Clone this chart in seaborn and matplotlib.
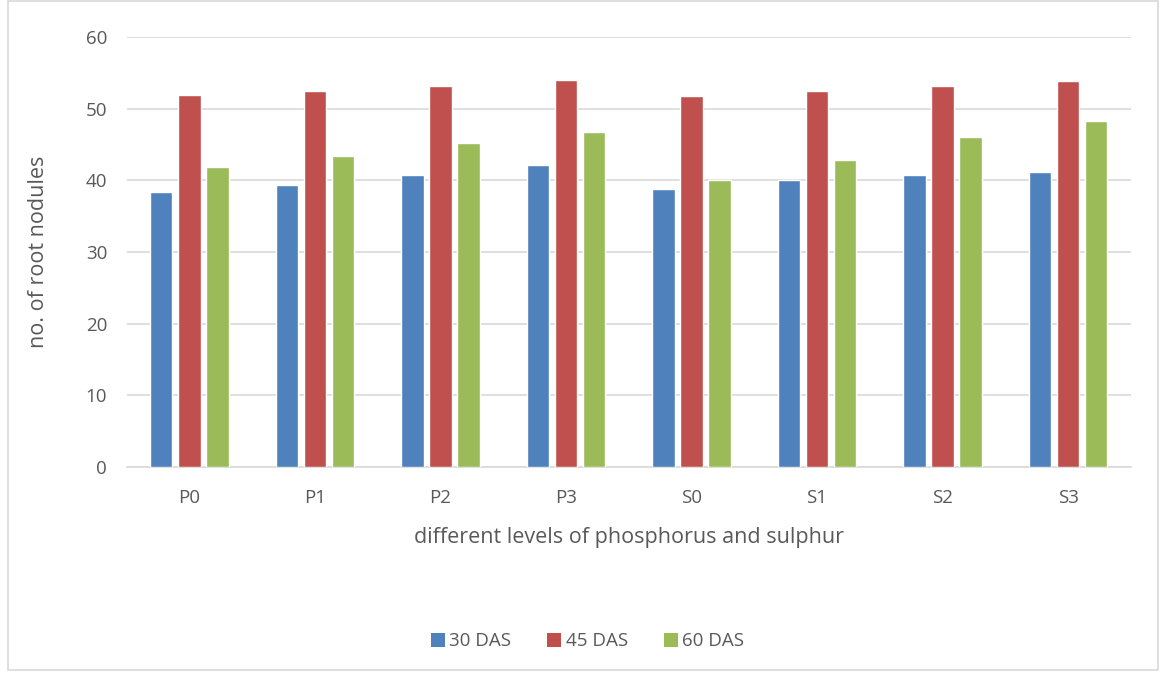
import matplotlib
matplotlib.use("Agg")
import matplotlib.pyplot as plt
import seaborn as sns
import pandas as pd
from matplotlib.patches import Rectangle, Patch

categories = ["P0", "P1", "P2", "P3", "S0", "S1", "S2", "S3"]
das30 = [38.4, 39.4, 40.8, 42.2, 38.8, 40.0, 40.8, 41.1]
das45 = [51.9, 52.4, 53.1, 54.0, 51.8, 52.4, 53.1, 53.9]
das60 = [41.9, 43.4, 45.2, 46.8, 40.0, 42.9, 46.0, 48.3]
series_names = ["30 DAS", "45 DAS", "60 DAS"]
colors = ["#4F81BD", "#C0504D", "#9BBB59"]

rows = []
for name, vals in zip(series_names, [das30, das45, das60]):
    for c, v in zip(categories, vals):
        rows.append({"cat": c, "series": name, "value": v})
df = pd.DataFrame(rows)

sns.set_theme(style="white")
plt.rcParams["font.family"] = ["Open Sans", "DejaVu Sans"]
text_color = "#595959"

fig = plt.figure(figsize=(11.61, 6.73), dpi=100)
ax = fig.add_axes([0.109, 0.306, 0.865, 0.639])

sns.barplot(data=df, x="cat", y="value", hue="series", order=categories,
            hue_order=series_names, palette=colors, width=0.67, gap=0.2,
            saturation=1, errorbar=None, ax=ax, legend=False, zorder=3)

ax.set_ylim(0, 60)
ax.set_yticks(range(0, 61, 10))
ax.yaxis.grid(True, color="#D9D9D9", linewidth=1.2, zorder=0)
ax.set_axisbelow(True)
for s in ["top", "right", "left"]:
    ax.spines[s].set_visible(False)
ax.spines["bottom"].set_color("#D9D9D9")
ax.spines["bottom"].set_linewidth(1.2)
ax.tick_params(axis="both", length=0, labelsize=13.5, colors=text_color)
ax.tick_params(axis="y", pad=14)
ax.tick_params(axis="x", pad=16)
ax.set_xlabel("different levels of phosphorus and sulphur", fontsize=15.5,
              color=text_color, labelpad=14)
ax.set_ylabel("no. of root nodules", fontsize=15.5, color=text_color, labelpad=26)

handles = [Patch(facecolor=c, edgecolor="none") for c in colors]
fig.legend(handles, series_names, loc="center", bbox_to_anchor=(0.506, 0.047),
           ncol=3, frameon=False, fontsize=13.5, handlelength=0.75,
           handleheight=0.75, columnspacing=1.9, handletextpad=0.25,
           labelcolor=text_color)

fig.patches.append(Rectangle((0.007, 0.004), 0.99, 0.995, transform=fig.transFigure,
                             fill=False, edgecolor="#D9D9D9", linewidth=1.2))

fig.savefig("out.png", dpi=100)
